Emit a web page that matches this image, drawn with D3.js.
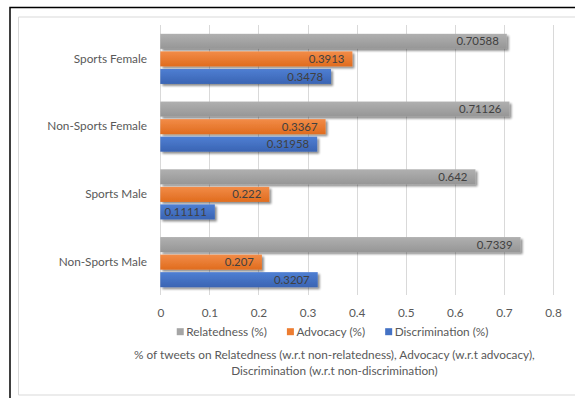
<!DOCTYPE html>
<html>
<head>
<meta charset="utf-8">
<script src="https://cdn.jsdelivr.net/npm/d3@7"></script>
<style>
  html, body { margin: 0; padding: 0; background: #fff; }
  svg { display: block; font-family: Lato, "Open Sans", sans-serif; }
</style>
</head>
<body>
<script>
// Chart data
const categories = ["Sports Female", "Non-Sports Female", "Sports Male", "Non-Sports Male"];
const seriesNames = ["Relatedness (%)", "Advocacy (%)", "Discrimination (%)"];
const relatedness = [0.70588, 0.71126, 0.642, 0.7339];
const advocacy = [0.3913, 0.3367, 0.222, 0.207];
const discrimination = [0.3478, 0.31958, 0.11111, 0.3207];
const xTicks = [0, 0.1, 0.2, 0.3, 0.4, 0.5, 0.6, 0.7, 0.8];
const titleLines = [
  "% of tweets on Relatedness (w.r.t non-relatedness), Advocacy (w.r.t advocacy),",
  "Discrimination (w.r.t non-discrimination)"
];

const seriesValues = [relatedness, advocacy, discrimination];
const colors = [
  { base: "#a5a5a5", top: "#b0b0b0", bottom: "#969696" },
  { base: "#ed7d31", top: "#f28c48", bottom: "#e06c1e" },
  { base: "#4472c4", top: "#4f7fd3", bottom: "#3a64b3" }
];

const W = 575, H = 398;
const FS = 11.8;
const svg = d3.select("body").append("svg").attr("width", W).attr("height", H);

const defs = svg.append("defs");
colors.forEach((c, i) => {
  const g = defs.append("linearGradient").attr("id", "grad" + i)
    .attr("x1", 0).attr("y1", 0).attr("x2", 0).attr("y2", 1);
  g.append("stop").attr("offset", "0%").attr("stop-color", c.top);
  g.append("stop").attr("offset", "100%").attr("stop-color", c.bottom);
});
const shadow = defs.append("filter").attr("id", "shadow")
  .attr("x", "-10%").attr("y", "-40%").attr("width", "130%").attr("height", "190%");
shadow.append("feGaussianBlur").attr("in", "SourceAlpha").attr("stdDeviation", 1.2).attr("result", "b");
shadow.append("feOffset").attr("in", "b").attr("dx", 1.5).attr("dy", 1.8).attr("result", "o");
shadow.append("feComponentTransfer").attr("in", "o").attr("result", "s")
  .append("feFuncA").attr("type", "linear").attr("slope", 0.45);
const merge = shadow.append("feMerge");
merge.append("feMergeNode").attr("in", "s");
merge.append("feMergeNode").attr("in", "SourceGraphic");

// Frames
svg.append("path").attr("d", `M${W + 5},7.5 H10 V${H + 5}`)
  .attr("fill", "none").attr("stroke", "#000").attr("stroke-width", 1.5);
svg.append("path").attr("d", `M${W + 5},17 H18.5 V395 H${W + 5}`)
  .attr("fill", "none").attr("stroke", "#d9d9d9").attr("stroke-width", 1);

// Scales
const x = d3.scaleLinear().domain([0, 0.8]).range([160.3, 553]);
const y = d3.scaleBand().domain(categories).range([25, 296]).paddingInner(0.26).paddingOuter(0.13);
const ySub = d3.scaleBand().domain(d3.range(seriesNames.length)).range([0, y.bandwidth()]).paddingInner(0.143);

// Gridlines
svg.append("g").selectAll("line").data(xTicks).join("line")
  .attr("x1", d => Math.round(x(d)) + 0.5).attr("x2", d => Math.round(x(d)) + 0.5)
  .attr("y1", 25).attr("y2", 295)
  .attr("stroke", "#d9d9d9").attr("stroke-width", 1);

// X axis tick labels
const xAxis = d3.axisBottom(x).tickValues(xTicks).tickSize(0).tickPadding(0).tickFormat(d3.format("~g"));
const gx = svg.append("g").attr("transform", "translate(0,313)").call(xAxis);
gx.select(".domain").remove();
gx.selectAll("text").attr("fill", "#595959").attr("font-size", FS).attr("font-family", null).attr("dy", "0.35em");

// Category labels
const yAxis = d3.axisLeft(y).tickSize(0).tickPadding(13.3);
const gy = svg.append("g").attr("transform", `translate(${x(0)},0)`).call(yAxis);
gy.select(".domain").remove();
gy.selectAll("text").attr("fill", "#595959").attr("font-size", FS).attr("font-family", null);
gy.attr("font-family", null);
gx.attr("font-family", null);

// Bars
const rows = [];
categories.forEach((cat, ci) => {
  seriesValues.forEach((vals, si) => rows.push({ cat, si, v: vals[ci] }));
});
svg.append("g").selectAll("rect").data(rows).join("rect")
  .attr("x", x(0))
  .attr("y", d => y(d.cat) + ySub(d.si))
  .attr("width", d => x(d.v) - x(0))
  .attr("height", ySub.bandwidth())
  .attr("fill", d => `url(#grad${d.si})`)
  .attr("filter", "url(#shadow)");

// Value labels (inside end)
svg.append("g").selectAll("text").data(rows).join("text")
  .attr("x", d => x(d.v) - 8)
  .attr("y", d => y(d.cat) + ySub(d.si) + ySub.bandwidth() / 2)
  .attr("dy", "0.36em")
  .attr("text-anchor", "end")
  .attr("font-size", 11.4)
  .attr("fill", "#404040")
  .text(d => String(d.v));

// Legend, laid out from measured text widths and centred
const legend = svg.append("g").attr("transform", "translate(0,331.7)");
const items = legend.selectAll("g").data(seriesNames).join("g");
items.append("rect").attr("x", 0).attr("y", -3.5).attr("width", 7).attr("height", 7)
  .attr("fill", (d, i) => colors[i].base);
items.append("text").attr("x", 9.5).attr("dy", "0.35em").attr("font-size", FS)
  .attr("fill", "#595959").text(d => d);
const widths = [];
items.each(function () { widths.push(9.5 + d3.select(this).select("text").node().getComputedTextLength()); });
const gap = 20;
const total = d3.sum(widths) + gap * (widths.length - 1);
let cx = 332.6 - total / 2;
items.attr("transform", (d, i) => {
  const t = `translate(${cx},0)`;
  cx += widths[i] + gap;
  return t;
});

// Axis title
svg.append("g").selectAll("text").data(titleLines).join("text")
  .attr("x", 334.4).attr("y", (d, i) => 355 + i * 16)
  .attr("dy", "0.35em").attr("text-anchor", "middle")
  .attr("font-size", FS).attr("fill", "#595959")
  .text(d => d);
</script>
</body>
</html>
